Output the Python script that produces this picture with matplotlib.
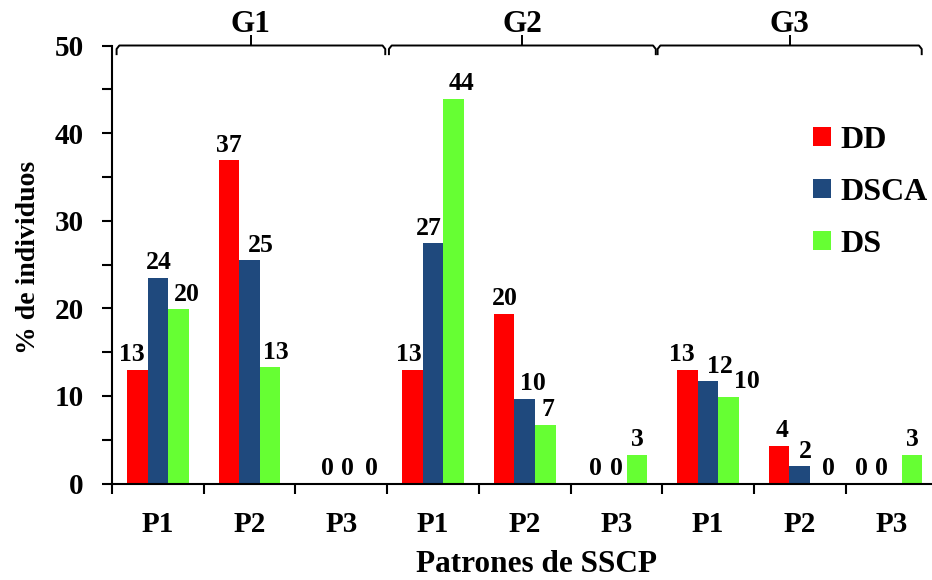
import numpy as np
import matplotlib.pyplot as plt
from matplotlib.ticker import MultipleLocator

plt.rcParams['font.family'] = ['Liberation Serif', 'DejaVu Serif']
plt.rcParams['font.weight'] = 'bold'

# --- data ---
groups = ['G1', 'G2', 'G3']
patterns = ['P1', 'P2', 'P3', 'P1', 'P2', 'P3', 'P1', 'P2', 'P3']
series = ['DD', 'DSCA', 'DS']
dd = [13.0, 36.9, 0, 13.0, 19.4, 0, 13.0, 4.3, 0]
dsca = [23.5, 25.5, 0, 27.4, 9.7, 0, 11.7, 2.0, 0]
ds = [19.9, 13.3, 0, 43.9, 6.7, 3.3, 9.9, 0, 3.3]
dd_labels = ['13', '37', '0', '13', '20', '0', '13', '4', '0']
dsca_labels = ['24', '25', '0', '27', '10', '0', '12', '2', '0']
ds_labels = ['20', '13', '0', '44', '7', '3', '10', '0', '3']

colors = ['#FF0000', '#1F497D', '#66FF33']

# layout: brace spans above the groups (category units) and
# horizontal nudges of the value labels (pixels), as placed in the original
brace_spans = [(-0.45, 2.48), (2.52, 5.43), (5.45, 8.33)]
dd_dx = [-5, 0, 7, -3, 1, 0, -6, 3, -9]
dsca_dx = [1, 11, 6, -4, 8, 0, 12, 6, -10]
ds_dx = [8, 6, 10, 8, 3, 0, 18, 8, 0]

fig = plt.figure(figsize=(9.32, 5.8), dpi=100)
ax = fig.add_axes([112 / 932, 1 - 483.5 / 580, 825.3 / 932, 438 / 580])

x = np.arange(len(patterns))
w = 0.225
values = [dd, dsca, ds]
labels = [dd_labels, dsca_labels, ds_labels]
nudges = [dd_dx, dsca_dx, ds_dx]
for i, (vals, lab, dx) in enumerate(zip(values, labels, nudges)):
    bars = ax.bar(x + (i - 1) * w, vals, width=w, color=colors[i],
                  edgecolor='none', label=series[i])
    anns = ax.bar_label(bars, labels=lab, padding=2.5, fontsize=18.5,
                        fontweight='bold')
    for a, d in zip(anns, dx):
        a.xyann = (d * 0.72, 2.5)

ax.set_xlim(-0.5, 8.5)
ax.set_ylim(0, 50)
ax.spines['top'].set_visible(False)
ax.spines['right'].set_visible(False)
ax.spines['left'].set_linewidth(1.5)
ax.spines['bottom'].set_linewidth(1.5)

ax.yaxis.set_major_locator(MultipleLocator(10))
ax.yaxis.set_minor_locator(MultipleLocator(5))
ax.tick_params(axis='y', which='both', length=7, width=1.5, direction='out')
ax.tick_params(axis='y', which='major', labelsize=21, pad=13.5)

ax.set_xticks(x)
ax.set_xticklabels(patterns)
ax.set_xticks(np.arange(-0.5, 9.0, 1.0), minor=True)
ax.tick_params(axis='x', which='major', length=0, labelsize=21, pad=20)
ax.tick_params(axis='x', which='minor', length=7, width=1.5, direction='out')
for t in ax.get_xticklabels() + ax.get_yticklabels():
    t.set_fontweight('bold')

# group braces
for (x0, x1), g in zip(brace_spans, groups):
    xm = (x0 + x1) / 2
    kw = dict(color='black', lw=1.4, clip_on=False, solid_capstyle='butt')
    ax.plot([x0, x0, x0 + 0.03, x1 - 0.03, x1, x1],
            [48.9, 49.6, 50.0, 50.0, 49.6, 48.9], **kw)
    ax.plot([xm, xm], [50.0, 51.2], **kw)
    ax.text(xm, 52.4, g, ha='center', va='center', fontsize=22.5,
            fontweight='bold', clip_on=False)

leg = ax.legend(loc='upper left', bbox_to_anchor=(813 / 932, 1 - 126 / 580),
                bbox_transform=fig.transFigure, frameon=False, fontsize=23,
                handlelength=0.55, handleheight=0.55, handletextpad=0.3,
                labelspacing=0.72, borderaxespad=0, borderpad=0)
for t in leg.get_texts():
    t.set_fontweight('bold')

fig.text(536 / 932, 1 - 565 / 580, 'Patrones de SSCP', ha='center', va='center',
         fontsize=22.5, fontweight='bold')
fig.text(29 / 932, 1 - 257 / 580, '% de individuos', ha='center', va='center',
         rotation=90, fontsize=20, fontweight='bold')

fig.savefig('out.png', dpi=100)
